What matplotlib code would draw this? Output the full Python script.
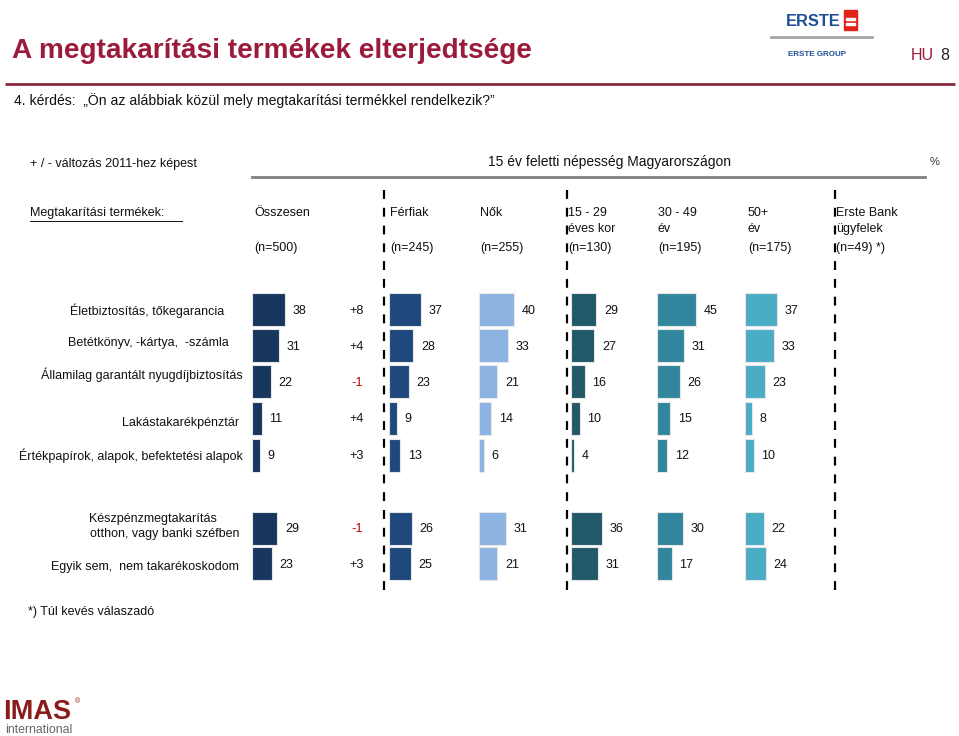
import matplotlib
matplotlib.use("Agg")
import matplotlib.pyplot as plt
from matplotlib.patches import Rectangle

plt.rcParams['font.family'] = ['Liberation Sans', 'DejaVu Sans']

# ---------------- data ----------------
items = [
    "Életbiztosítás, tőkegarancia",
    "Betétkönyv, -kártya,  -számla",
    "Államilag garantált nyugdíjbiztosítás",
    "Lakástakarékpénztár",
    "Értékpapírok, alapok, befektetési alapok",
    "Készpénzmegtakarítás\notthon, vagy banki széfben",
    "Egyik sem,  nem takarékoskodom",
]
osszesen = [38, 31, 22, 11, 9, 29, 23]
valtozas = ["+8", "+4", "-1", "+4", "+3", "-1", "+3"]
ferfiak = [37, 28, 23, 9, 13, 26, 25]
nok = [40, 33, 21, 14, 6, 31, 21]
kor_15_29 = [29, 27, 16, 10, 4, 36, 31]
kor_30_49 = [45, 31, 26, 15, 12, 30, 17]
kor_50 = [37, 33, 23, 8, 10, 22, 24]

col_headers = [["Összesen", "", "(n=500)"], ["Férfiak", "", "(n=245)"], ["Nők", "", "(n=255)"],
               ["15 - 29", "éves kor", "(n=130)"], ["30 - 49", "év", "(n=195)"],
               ["50+", "év", "(n=175)"], ["Erste Bank", "ügyfelek", "(n=49) *)"]]

# ---------------- layout ----------------
W, H = 959, 736
fig = plt.figure(figsize=(W / 100, H / 100), dpi=100)
ax = fig.add_axes([0, 0, 1, 1])
ax.set_xlim(0, W)
ax.set_ylim(H, 0)
ax.axis('off')

row_y = [309.5, 345.5, 381.5, 418.5, 455, 528, 563.5]
label_x = [224, 229, 243, 239, 243, 239, 239]
label_y = [311, 343, 375, 423, 456, 526.5, 567]
bar_h = 33
px_per_unit = 0.87
FS = 9.0

title_col = '#9b1b3b'
ax.text(12, 51, "A megtakarítási termékek elterjedtsége", fontsize=20.2, fontweight='bold',
        color=title_col, va='center', ha='left')
ax.plot([5, 955], [84, 84], color='#8c2a40', lw=2, solid_capstyle='butt')
ax.text(911, 55, "HU", fontsize=11.5, color=title_col, va='center', ha='left')
ax.text(940, 55, "8", fontsize=11.5, color='#222222', va='center', ha='left')

# Erste logo
ax.text(786, 21, "ERSTE", fontsize=11.8, fontweight='bold', color='#1f4e96', va='center', ha='left')
ax.add_patch(Rectangle((844, 10), 13, 20, color='#e2231a'))
ax.add_patch(Rectangle((846, 17.5), 9, 2.2, color='white'))
ax.add_patch(Rectangle((846, 22.5), 9, 2.2, color='white'))
ax.plot([771, 872], [37, 37], color='#a5a5a5', lw=2)
ax.text(788, 54, "ERSTE GROUP", fontsize=5.8, fontweight='bold', color='#1f4e96', va='center', ha='left')

ax.text(14, 101, "4. kérdés:  „Ön az alábbiak közül mely megtakarítási termékkel rendelkezik?”",
        fontsize=10.1, color='#111111', va='center', ha='left')

ax.text(30, 164, "+ / - változás 2011-hez képest", fontsize=FS, color='#111111', va='center')
ax.text(609, 162, "15 év feletti népesség Magyarországon", fontsize=10, color='#111111',
        va='center', ha='center')
ax.plot([252, 925], [177, 177], color='#808080', lw=2)
ax.text(930, 162, "%", fontsize=8, color='#333333', va='center')

ax.text(30, 213, "Megtakarítási termékek:", fontsize=FS, color='#111111', va='center')
ax.plot([30, 182], [220.5, 220.5], color='#111111', lw=0.7)

col_x = [254, 390, 480, 568, 658, 748, 836]
for x, (a, b, c) in zip(col_x, col_headers):
    ax.text(x, 213, a, fontsize=FS, va='center', color='#111111')
    if b:
        ax.text(x, 229, b, fontsize=FS, va='center', color='#111111')
    ax.text(x, 248, c, fontsize=FS, va='center', color='#111111')

for x in [384, 567, 835]:
    ax.plot([x, x], [190, 592], color='black', lw=1.6, linestyle=(0, (4, 4)))

for x, y, lab in zip(label_x, label_y, items):
    ax.text(x, y, lab, fontsize=FS, va='center', ha='right', multialignment='left',
            color='#111111', linespacing=1.35)

for y, ch in zip(row_y, valtozas):
    ax.text(357, y + 1, ch, fontsize=9.2, va='center', ha='center',
            color='#c00000' if ch.startswith('-') else '#111111')

ax.text(28, 612, "*) Túl kevés válaszadó", fontsize=FS, va='center', color='#111111')

# IMAS logo
ax.text(3, 712, "IMAS", fontsize=19.5, fontweight='bold', color='#8b1a1a', va='center', ha='left')
ax.text(75, 702, "®", fontsize=5, color='#8b1a1a', va='center')
ax.text(5, 730, "international", fontsize=8.8, color='#666666', va='center', ha='left')

# ---------------- bars ----------------
series = [osszesen, ferfiak, nok, kor_15_29, kor_30_49, kor_50]
colors = ['#17375e', '#1f497d', '#8db3e2', '#215968', '#31859c', '#4bacc6']
bar_x0 = [252, 389, 479, 571, 657, 745]
col_w = 80
for x0, vals, c in zip(bar_x0, series, colors):
    bax = fig.add_axes([x0 / W, 0, col_w / W, 1])
    bax.set_xlim(0, col_w / px_per_unit)
    bax.set_ylim(H, 0)
    bax.axis('off')
    bax.patch.set_alpha(0)
    bax.barh(row_y, vals, height=bar_h, color=c, edgecolor='#e6e6e6', linewidth=0.8)
    for v, y in zip(vals, row_y):
        bax.annotate(str(v), (v, y + 1), xytext=(5.5, 0), textcoords='offset points',
                     fontsize=FS, va='center', ha='left', color='#111111', annotation_clip=False)

fig.savefig("out.png", dpi=100)
